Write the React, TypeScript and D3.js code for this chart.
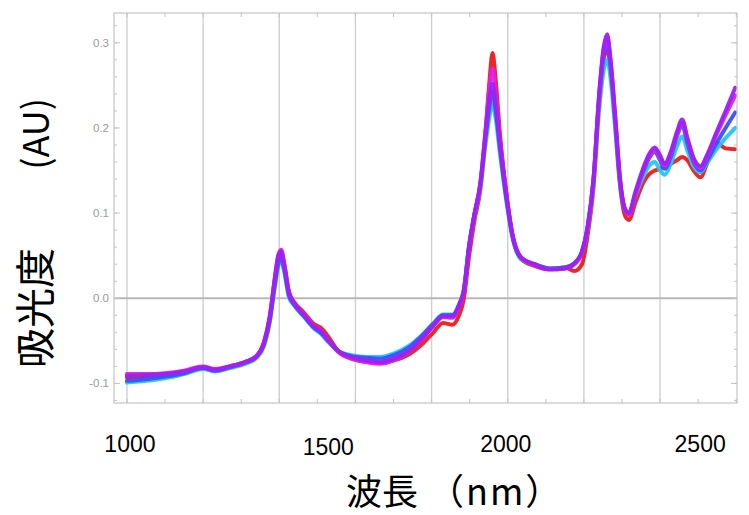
import React from "react";
import * as d3 from "d3";

const wavelengths = [1000,1050,1100,1150,1200,1230,1270,1310,1340,1360,1375,1388,1398,1405,1413,1425,1440,1465,1490,1510,1530,1555,1590,1630,1665,1700,1740,1775,1805,1830,1855,1872,1885,1898,1912,1928,1942,1952,1960,1968,1980,1995,2012,2035,2070,2110,2150,2175,2195,2210,2225,2240,2252,2261,2270,2282,2295,2308,2318,2335,2355,2372,2386,2400,2412,2428,2444,2458,2472,2488,2506,2525,2548,2572,2597];

const redValues = [-0.093,-0.092,-0.090,-0.087,-0.081,-0.084,-0.080,-0.075,-0.068,-0.053,-0.024,0.019,0.047,0.052,0.038,0.007,-0.005,-0.017,-0.030,-0.035,-0.046,-0.062,-0.071,-0.075,-0.076,-0.073,-0.066,-0.054,-0.040,-0.029,-0.031,-0.020,0.000,0.048,0.090,0.128,0.195,0.255,0.288,0.258,0.190,0.128,0.075,0.046,0.038,0.034,0.036,0.032,0.040,0.075,0.130,0.230,0.282,0.292,0.268,0.205,0.132,0.097,0.092,0.112,0.135,0.146,0.150,0.152,0.155,0.158,0.162,0.166,0.162,0.150,0.142,0.160,0.183,0.176,0.175];

const cyanValues = [-0.099,-0.097,-0.094,-0.089,-0.083,-0.086,-0.082,-0.077,-0.070,-0.056,-0.028,0.012,0.039,0.044,0.031,0.002,-0.009,-0.022,-0.035,-0.042,-0.052,-0.062,-0.067,-0.069,-0.069,-0.065,-0.056,-0.043,-0.029,-0.019,-0.019,-0.007,0.011,0.060,0.096,0.130,0.182,0.214,0.228,0.212,0.168,0.118,0.072,0.046,0.040,0.035,0.036,0.041,0.054,0.082,0.133,0.222,0.268,0.280,0.258,0.200,0.133,0.104,0.100,0.120,0.142,0.156,0.160,0.150,0.145,0.158,0.178,0.190,0.173,0.155,0.148,0.160,0.175,0.188,0.200];

const blueValues = [-0.097,-0.095,-0.092,-0.088,-0.082,-0.085,-0.081,-0.076,-0.069,-0.054,-0.026,0.015,0.042,0.047,0.034,0.004,-0.008,-0.021,-0.034,-0.041,-0.051,-0.062,-0.068,-0.070,-0.071,-0.067,-0.058,-0.044,-0.030,-0.020,-0.020,-0.008,0.010,0.060,0.097,0.133,0.190,0.226,0.242,0.222,0.175,0.122,0.074,0.047,0.040,0.035,0.036,0.041,0.055,0.084,0.138,0.234,0.285,0.298,0.272,0.210,0.137,0.104,0.099,0.122,0.148,0.165,0.172,0.162,0.152,0.166,0.190,0.203,0.182,0.160,0.150,0.163,0.182,0.200,0.218];

const magentaValues = [-0.089,-0.089,-0.088,-0.085,-0.080,-0.083,-0.080,-0.075,-0.068,-0.051,-0.021,0.023,0.052,0.057,0.041,0.008,-0.006,-0.019,-0.032,-0.038,-0.050,-0.063,-0.071,-0.075,-0.077,-0.073,-0.063,-0.048,-0.032,-0.022,-0.023,-0.010,0.008,0.058,0.097,0.135,0.200,0.248,0.270,0.242,0.185,0.127,0.076,0.048,0.039,0.034,0.035,0.040,0.054,0.084,0.138,0.238,0.292,0.306,0.278,0.213,0.138,0.103,0.098,0.122,0.150,0.167,0.173,0.165,0.156,0.170,0.192,0.206,0.186,0.163,0.153,0.168,0.192,0.215,0.238];

const violetValues = [-0.091,-0.090,-0.089,-0.086,-0.081,-0.084,-0.080,-0.075,-0.068,-0.052,-0.022,0.022,0.050,0.055,0.040,0.008,-0.006,-0.020,-0.033,-0.039,-0.050,-0.062,-0.069,-0.073,-0.075,-0.071,-0.062,-0.047,-0.032,-0.021,-0.021,-0.008,0.010,0.060,0.098,0.135,0.195,0.235,0.252,0.230,0.180,0.125,0.075,0.048,0.040,0.034,0.035,0.041,0.055,0.085,0.140,0.240,0.295,0.310,0.280,0.215,0.140,0.105,0.100,0.125,0.152,0.170,0.177,0.168,0.158,0.172,0.195,0.210,0.188,0.165,0.155,0.170,0.195,0.220,0.247];

const seriesNames = ["red", "cyan", "blue", "magenta", "violet"];
const seriesColors = ["#ee1a1a", "#22c8f2", "#3a50ff", "#e020e6", "#9a22f2"];
const seriesValues = [redValues, cyanValues, blueValues, magentaValues, violetValues];

const xLabelTicks = [1000, 1500, 2000, 2500];
const yTickValues = [-0.1, 0.0, 0.1, 0.2, 0.3];
const yTickLabels = ["-0.1", "0.0", "0.1", "0.2", "0.3"];

const W = 749;
const H = 515;
const frame = { left: 114, right: 737, top: 13, bottom: 403 };
const xLabelNudge = [3, 11, -2, 2];
const xLabelBaseline = [452, 455, 452, 452];

export default function App() {
  const x = d3.scaleLinear().domain([966, 2602]).range([frame.left, frame.right]);
  const y = d3.scaleLinear().domain([-0.123, 0.335]).range([frame.bottom, frame.top]);

  const gridX = d3.range(1000, 2401, 200);
  const minorX = d3.range(1000, 2601, 100);
  const majorY = d3.range(-0.1, 0.31, 0.1);
  const minorY = d3.range(-0.12, 0.331, 0.02);

  const line = d3
    .line<number>()
    .x((_, i) => x(wavelengths[i]))
    .y((v) => y(v))
    .curve(d3.curveMonotoneX);

  const frameColor = "#c4c4c4";
  const cjk = "Noto Sans CJK JP, sans-serif";

  return (
    <svg
      width={W}
      height={H}
      viewBox={`0 0 ${W} ${H}`}
      style={{ position: "absolute", left: 0, top: 0, background: "#fff" }}
    >
      <rect x={0} y={0} width={W} height={H} fill="#fff" />
      {gridX.map((g) => (
        <line key={"g" + g} x1={x(g)} x2={x(g)} y1={frame.top} y2={frame.bottom} stroke="#cfcfcf" strokeWidth={1.4} />
      ))}
      <line x1={frame.left} x2={frame.right} y1={y(0)} y2={y(0)} stroke="#b8b8b8" strokeWidth={2} />

      {minorX.map((t) => (
        <g key={"tx" + t}>
          <line x1={x(t)} x2={x(t)} y1={frame.top} y2={frame.top + 4} stroke={frameColor} strokeWidth={1} />
          <line x1={x(t)} x2={x(t)} y1={frame.bottom} y2={frame.bottom - 4} stroke={frameColor} strokeWidth={1} />
        </g>
      ))}
      {minorY.map((t, i) => (
        <g key={"ty" + i}>
          <line x1={frame.left} x2={frame.left + 3} y1={y(t)} y2={y(t)} stroke={frameColor} strokeWidth={1} />
          <line x1={frame.right} x2={frame.right - 3} y1={y(t)} y2={y(t)} stroke={frameColor} strokeWidth={1} />
        </g>
      ))}
      {majorY.map((t, i) => (
        <g key={"my" + i}>
          <line x1={frame.left} x2={frame.left + 6} y1={y(t)} y2={y(t)} stroke={frameColor} strokeWidth={1} />
          <line x1={frame.right} x2={frame.right - 6} y1={y(t)} y2={y(t)} stroke={frameColor} strokeWidth={1} />
        </g>
      ))}

      {seriesValues.map((vals, i) => (
        <path
          key={seriesNames[i]}
          d={line(vals) || ""}
          fill="none"
          stroke={seriesColors[i]}
          strokeWidth={4}
          strokeLinejoin="round"
          strokeLinecap="round"
          opacity={0.95}
        />
      ))}

      <rect
        x={frame.left}
        y={frame.top}
        width={frame.right - frame.left}
        height={frame.bottom - frame.top}
        fill="none"
        stroke={frameColor}
        strokeWidth={1.2}
      />

      {yTickValues.map((t, i) => (
        <text
          key={"yl" + i}
          x={frame.left - 5}
          y={y(t)}
          dy="0.35em"
          textAnchor="end"
          fontFamily="Liberation Sans, sans-serif"
          fontSize={11.5}
          fill="#9a9a9a"
        >
          {yTickLabels[i]}
        </text>
      ))}

      {xLabelTicks.map((t, i) => (
        <text
          key={"xl" + t}
          x={x(t) + xLabelNudge[i]}
          y={xLabelBaseline[i]}
          textAnchor="middle"
          fontFamily="Liberation Sans, sans-serif"
          fontSize={23}
          fill="#000"
        >
          {t}
        </text>
      ))}

      <text x={346} y={505} fontFamily={cjk} fontSize={36} fill="#000">
        波長
      </text>
      <text x={428} y={505} fontFamily={cjk} fontSize={36} letterSpacing={2} fill="#000">
        （nm）
      </text>

      <text
        transform={`translate(50, 368) rotate(-90)`}
        textAnchor="start"
        fontFamily={cjk}
        fontSize={40}
        fill="#000"
      >
        吸光度
      </text>
      <text
        transform={`translate(49, 98) rotate(-90)`}
        textAnchor="end"
        fontFamily={cjk}
        fontSize={36}
        fill="#000"
      >
        (AU)
      </text>
    </svg>
  );
}
